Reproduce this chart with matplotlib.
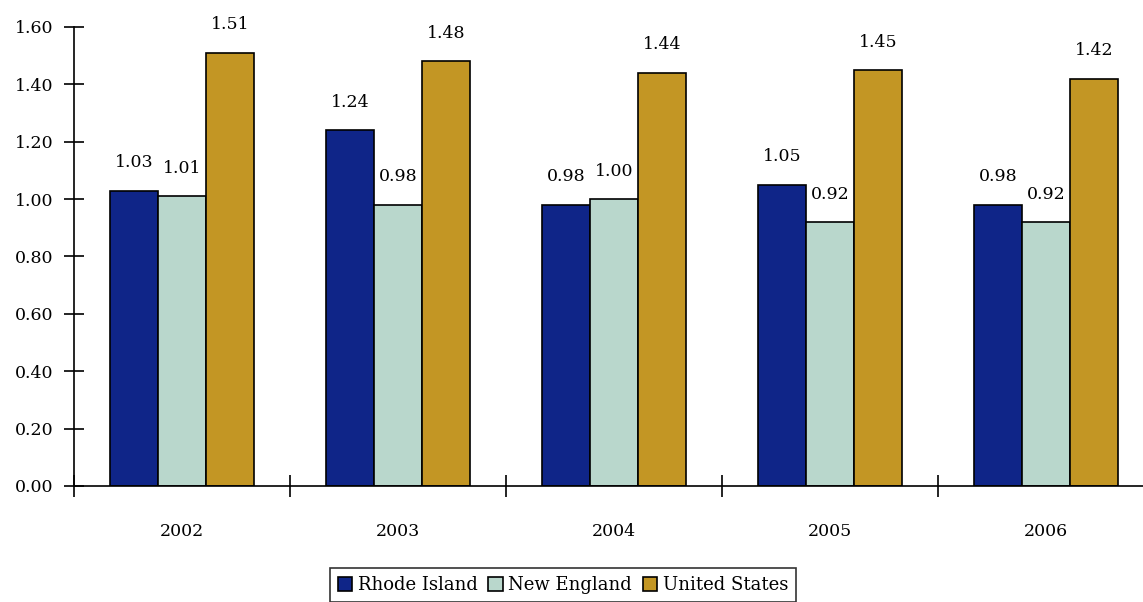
import numpy as np
import matplotlib.pyplot as plt
from matplotlib.ticker import FixedLocator, NullFormatter

years = ["2002", "2003", "2004", "2005", "2006"]
rhode_island = [1.03, 1.24, 0.98, 1.05, 0.98]
new_england = [1.01, 0.98, 1.00, 0.92, 0.92]
united_states = [1.51, 1.48, 1.44, 1.45, 1.42]
series_names = ["Rhode Island", "New England", "United States"]
colors = ["#0F2588", "#B9D7CC", "#C39624"]

plt.rcParams['font.family'] = ['DejaVu Serif']

fig = plt.figure(figsize=(11.43, 6.02), dpi=100)
ax = fig.add_axes([74 / 1143, 1 - 486 / 602, 1080 / 1143, 459 / 602])

x = np.arange(len(years))
w = 0.222
for i, (vals, name, c) in enumerate(zip([rhode_island, new_england, united_states], series_names, colors)):
    bars = ax.bar(x + (i - 1) * w, vals, w, color=c, edgecolor='black', linewidth=1.2, label=name)
    for b, v in zip(bars, vals):
        ax.annotate(f"{v:.2f}", (b.get_x() + b.get_width() / 2, v), xytext=(0, 14),
                    textcoords='offset points', ha='center', va='bottom', fontsize=12.5)

ax.set_xlim(-0.5, len(years) - 0.5)
ax.set_ylim(0, 1.6)
ax.set_yticks(np.arange(0, 1.61, 0.2))
ax.set_yticklabels([f"{t:.2f}" for t in np.arange(0, 1.61, 0.2)], fontsize=12.5)
ax.xaxis.set_major_locator(FixedLocator(np.arange(-0.5, len(years), 1)))
ax.xaxis.set_major_formatter(NullFormatter())
ax.xaxis.set_minor_locator(FixedLocator(x))
ax.set_xticklabels(years, minor=True, fontsize=12.5)
ax.tick_params(axis='x', which='major', direction='inout', length=16, width=1.2)
ax.tick_params(axis='x', which='minor', length=0, pad=27)
ax.tick_params(axis='y', direction='inout', length=14, width=1.2, pad=8)

for s in ['top', 'right']:
    ax.spines[s].set_visible(False)
for s in ['left', 'bottom']:
    ax.spines[s].set_linewidth(1.2)
ax.spines['left'].set_bounds(0, 1.6)

leg = fig.legend(loc='upper center', bbox_to_anchor=(563 / 1143, 1 - 559 / 602), ncol=3, fontsize=13,
                 frameon=True, fancybox=False, edgecolor='black', handlelength=0.8, handleheight=0.8,
                 handletextpad=0.3, columnspacing=0.6, borderpad=0.45)
leg.get_frame().set_linewidth(1.2)

fig.savefig("out.png", dpi=100)
